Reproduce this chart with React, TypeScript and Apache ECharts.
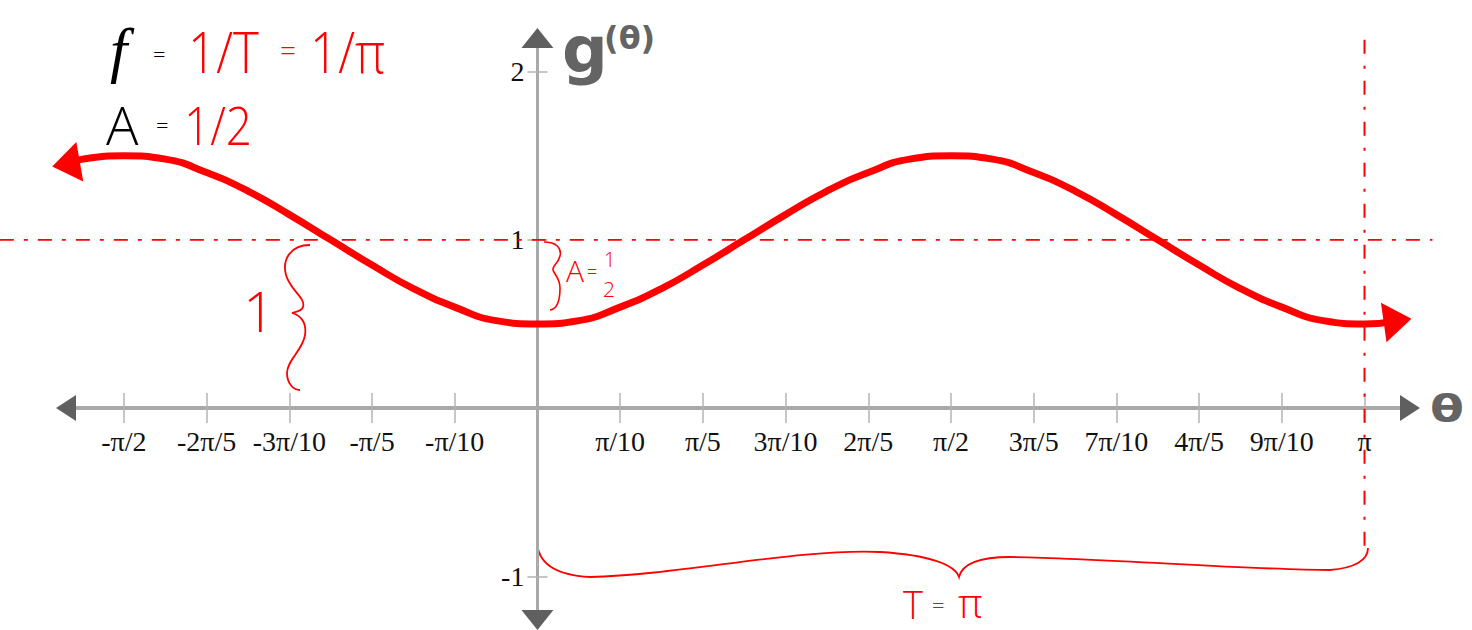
import React, { useEffect, useRef } from "react";
import * as echarts from "echarts";

// θ expressed in units of π
const thetaPi = [
  -0.57, -0.55, -0.5, -0.45, -0.4, -0.35, -0.3, -0.25, -0.2, -0.15, -0.1, -0.05,
  0, 0.05, 0.1, 0.15, 0.2, 0.25, 0.3, 0.35, 0.4, 0.45, 0.5, 0.55, 0.6, 0.65,
  0.7, 0.75, 0.8, 0.85, 0.9, 0.95, 1.0, 1.04,
];
// g(θ)
const gValues = [
  1.45, 1.48, 1.5, 1.48, 1.4, 1.29, 1.15, 1.0, 0.85, 0.71, 0.6, 0.52,
  0.5, 0.52, 0.6, 0.71, 0.85, 1.0, 1.15, 1.29, 1.4, 1.48, 1.5, 1.48, 1.4, 1.29,
  1.15, 1.0, 0.85, 0.71, 0.6, 0.52, 0.5, 0.52,
];

const xTickValues = [-0.5, -0.4, -0.3, -0.2, -0.1, 0.1, 0.2, 0.3, 0.4, 0.5, 0.6, 0.7, 0.8, 0.9, 1.0];
const xTickLabels = ["-π/2", "-2π/5", "-3π/10", "-π/5", "-π/10", "π/10", "π/5", "3π/10", "2π/5", "π/2", "3π/5", "7π/10", "4π/5", "9π/10", "π"];
const yTickValues = [-1, 1, 2];
const yTickLabels = ["-1", "1", "2"];

const midlineValue = 1;
const midlineExtent = [-0.65, 1.082];
const periodValue = 1;
const periodExtent = [2.19, -0.85];

const X_MIN = -0.57;
const X_MAX = 1.055;
const Y_MIN = -1.26;
const Y_MAX = 2.2;

const W = 1472;
const H = 630;
const GRID = { left: 66, right: 62, top: 38, bottom: 10 };

echarts.graphic.registerShape(
  "braceBig",
  echarts.graphic.extendPath(
    "M310,245 C290,245 282,260 286,275 C290,290 306,298 303,307 C302,311 296,312 292,313 C300,315 307,322 305,335 C303,350 287,360 287,373 C287,383 293,390 300,390",
    {}
  )
);
echarts.graphic.registerShape(
  "braceSmall",
  echarts.graphic.extendPath(
    "M544,242 C556,242 562,248 560,256 C558,264 552,266 553,270 C554,274 560,278 560,288 C560,300 558,309 550,310",
    {}
  )
);
echarts.graphic.registerShape(
  "braceBottom",
  echarts.graphic.extendPath(
    "M537,540 C537,560 550,575 590,577 C680,575 800,548 880,552 C930,555 955,565 959,577 C962,565 975,557 1010,557 C1100,558 1250,570 1330,570 C1355,568 1368,560 1368,548",
    {}
  )
);

const RED = "#ff0000";
const GREY = "#646464";

function fmt(values: number[], labels: string[]) {
  return (v: number) => {
    const i = values.findIndex((t) => Math.abs(t - v) < 1e-6);
    return i >= 0 ? labels[i] : "";
  };
}

function txt(
  text: string,
  x: number,
  y: number,
  size: number,
  fill: string,
  extra: Record<string, unknown> = {},
  styleExtra: Record<string, unknown> = {}
) {
  return {
    type: "text",
    x,
    y,
    silent: true,
    ...extra,
    style: {
      text,
      fill,
      fontSize: size,
      fontFamily: "Open Sans",
      fontWeight: 300,
      textAlign: "left",
      textVerticalAlign: "middle",
      ...styleExtra,
    },
  };
}

export default function App() {
  const ref = useRef<HTMLDivElement>(null);

  useEffect(() => {
    if (!ref.current) return;
    const chart = echarts.init(ref.current, undefined, { renderer: "svg" });

    // grid geometry (for placing axes through the origin)
    const gx0 = GRID.left;
    const gx1 = W - GRID.right;
    const gy0 = GRID.top;
    const gy1 = H - GRID.bottom;
    const xPx = (v: number) => gx0 + ((v - X_MIN) / (X_MAX - X_MIN)) * (gx1 - gx0);
    const yPx = (v: number) => gy1 - ((v - Y_MIN) / (Y_MAX - Y_MIN)) * (gy1 - gy0);
    const zeroX = xPx(0);
    const zeroY = yPx(0);

    const tickStyle = { color: "#b3b3b3", width: 1.5 };
    const option: any = {
      animation: false,
      backgroundColor: "#ffffff",
      textStyle: { fontFamily: "Liberation Serif" },
      grid: { ...GRID, containLabel: false, outerBoundsMode: "none" },
      xAxis: [
        {
          type: "value",
          min: X_MIN,
          max: X_MAX,
          position: "bottom",
          offset: -(gy1 - zeroY),
          axisLine: { show: true, onZero: false, lineStyle: { color: "#a9a9a9", width: 4 } },
          axisTick: { show: true, length: 15, customValues: xTickValues, lineStyle: tickStyle },
          axisLabel: {
            show: true,
            customValues: xTickValues,
            formatter: fmt(xTickValues, xTickLabels),
            margin: 19,
            color: "#111111",
            fontFamily: "Liberation Serif",
            fontSize: 28,
          },
          splitLine: { show: false },
        },
        {
          type: "value",
          min: X_MIN,
          max: X_MAX,
          position: "top",
          offset: -(zeroY - gy0),
          axisLine: { show: false, onZero: false },
          axisTick: { show: true, length: 15, customValues: xTickValues, lineStyle: tickStyle },
          axisLabel: { show: false },
          splitLine: { show: false },
        },
      ],
      yAxis: [
        {
          type: "value",
          min: Y_MIN,
          max: Y_MAX,
          position: "left",
          offset: -(zeroX - gx0),
          axisLine: { show: true, onZero: false, lineStyle: { color: "#a9a9a9", width: 3 } },
          axisTick: { show: true, length: 10, customValues: yTickValues, lineStyle: tickStyle },
          axisLabel: {
            show: true,
            customValues: yTickValues,
            formatter: fmt(yTickValues, yTickLabels),
            margin: 13,
            color: "#111111",
            fontFamily: "Liberation Serif",
            fontSize: 28,
          },
          splitLine: { show: false },
        },
        {
          type: "value",
          min: Y_MIN,
          max: Y_MAX,
          position: "right",
          offset: -(gx1 - zeroX),
          axisLine: { show: false, onZero: false },
          axisTick: { show: true, length: 10, customValues: yTickValues, lineStyle: tickStyle },
          axisLabel: { show: false },
          splitLine: { show: false },
        },
      ],
      series: [
        {
          type: "line",
          name: "period",
          silent: true,
          clip: false,
          symbol: "none",
          z: 2,
          data: periodExtent.map((y) => [periodValue, y]),
          lineStyle: { color: RED, width: 2, type: [14, 12, 3, 12] },
        },
        {
          type: "line",
          name: "g",
          silent: true,
          clip: false,
          symbol: "none",
          smooth: true,
          z: 5,
          data: thetaPi.map((x, i) => [x, gValues[i]]),
          lineStyle: { color: RED, width: 7 },
        },
        {
          type: "scatter",
          name: "curveArrows",
          silent: true,
          clip: false,
          z: 6,
          itemStyle: { color: RED, opacity: 1 },
          data: [
            { value: [thetaPi[0], gValues[0]], symbol: "triangle", symbolSize: [40, 28], symbolRotate: 100 },
            {
              value: [thetaPi[thetaPi.length - 1], gValues[gValues.length - 1]],
              symbol: "triangle",
              symbolSize: [40, 28],
              symbolRotate: -82,
            },
          ],
        },
        {
          type: "scatter",
          name: "axisArrows",
          silent: true,
          clip: false,
          z: 6,
          itemStyle: { color: "#5f5f5f", opacity: 1 },
          data: [
            { value: [X_MIN, 0], symbol: "triangle", symbolSize: [26, 20], symbolRotate: 90 },
            { value: [X_MAX, 0], symbol: "triangle", symbolSize: [26, 20], symbolRotate: -90 },
            { value: [0, Y_MAX], symbol: "triangle", symbolSize: [32, 20], symbolRotate: 0 },
            { value: [0, Y_MIN], symbol: "triangle", symbolSize: [32, 20], symbolRotate: 180 },
          ],
        },
      ],
      graphic: [
        // midline g = 1 (extends past the plot area)
        {
          type: "line",
          silent: true,
          z: 1,
          shape: { x1: xPx(midlineExtent[0]), y1: yPx(midlineValue), x2: xPx(midlineExtent[1]), y2: yPx(midlineValue) },
          style: { stroke: RED, lineWidth: 1.8, lineDash: [14, 10, 4, 10] },
        },
        // f = 1/T = 1/π
        txt("f", 110, 50, 62, "#000000", {}, { fontFamily: "Liberation Serif", fontStyle: "italic", fontWeight: "normal" }),
        txt("=", 153, 53, 22, "#000000"),
        txt("1/T", 188, 50, 58, RED, { scaleX: 0.85 }),
        txt("=", 280, 50, 28, RED),
        txt("1/π", 310, 50, 58, RED, { scaleX: 0.85 }),
        // A = 1/2
        txt("A", 106, 124, 54, "#000000"),
        txt("=", 156, 124, 22, "#000000"),
        txt("1/2", 184, 124, 54, RED, { scaleX: 0.85 }),
        // g(θ)
        txt("g", 562, 50, 64, GREY, {}, { fontFamily: "DejaVu Sans", fontWeight: "bold" }),
        txt("(θ)", 604, 38, 32, GREY, {}, { fontFamily: "DejaVu Sans", fontWeight: "bold" }),
        // θ axis name
        txt("θ", 1430, 408, 38, GREY, { scaleX: 1.3 }, { fontFamily: "DejaVu Sans", fontWeight: "bold" }),
        // 1 with brace
        txt("1", 243, 310, 56, RED),
        { type: "braceBig", x: 0, y: 0, silent: true, style: { stroke: RED, fill: "none", lineWidth: 1.8 } },
        // A = 1/2 small
        { type: "braceSmall", x: 0, y: 0, silent: true, style: { stroke: RED, fill: "none", lineWidth: 1.6 } },
        txt("A", 566, 270, 30, RED),
        txt("=", 587, 271, 18, RED),
        txt("1", 604, 259, 20, RED),
        txt("2", 603, 289, 21, RED),
        // bottom brace
        { type: "braceBottom", x: 0, y: 0, silent: true, style: { stroke: RED, fill: "none", lineWidth: 1.8 } },
        txt("T", 903, 604, 38, RED),
        txt("=", 932, 604, 22, RED),
        txt("π", 958, 602, 40, RED),
      ],
    };

    chart.setOption(option);
    return () => chart.dispose();
  }, []);

  return (
    <div
      ref={ref}
      style={{ position: "fixed", left: 0, top: 0, width: W, height: H, background: "#fff" }}
    />
  );
}
